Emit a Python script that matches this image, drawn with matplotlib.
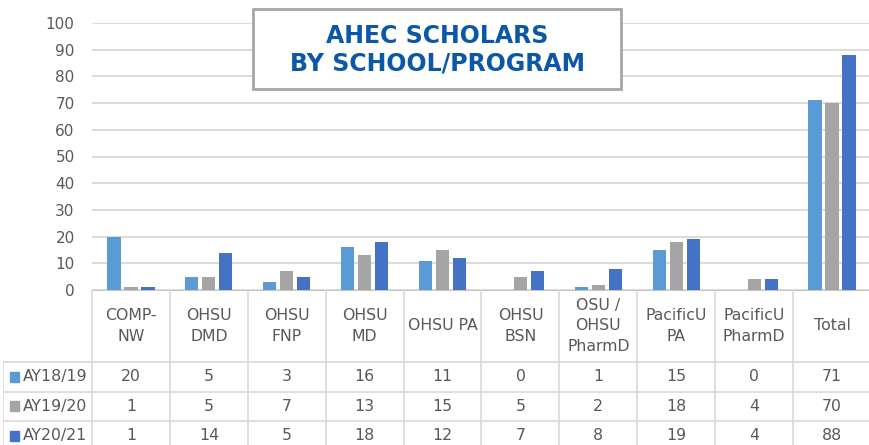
import numpy as np
import matplotlib
matplotlib.use("Agg")
import matplotlib.pyplot as plt
from matplotlib.patches import Rectangle

# data
categories = ["COMP-\nNW", "OHSU\nDMD", "OHSU\nFNP", "OHSU\nMD", "OHSU PA",
              "OHSU\nBSN", "OSU /\nOHSU\nPharmD", "PacificU\nPA", "PacificU\nPharmD", "Total"]
series_names = ["AY18/19", "AY19/20", "AY20/21"]
ay1819 = [20, 5, 3, 16, 11, 0, 1, 15, 0, 71]
ay1920 = [1, 5, 7, 13, 15, 5, 2, 18, 4, 70]
ay2021 = [1, 14, 5, 18, 12, 7, 8, 19, 4, 88]
colors = ["#5b9bd5", "#a5a5a5", "#4472c4"]

plt.rcParams["font.family"] = ["DejaVu Sans"]
W, H = 870, 445
txt_col = "#595959"
grid_col = "#d9d9d9"
fs = 11.3


def px_box(x0, y0, x1, y1):
    # pixel box (top-left origin) -> figure fraction rect
    return [x0 / W, 1 - y1 / H, (x1 - x0) / W, (y1 - y0) / H]


fig = plt.figure(figsize=(W / 100, H / 100), dpi=100)

# bar chart
ax = fig.add_axes(px_box(92, 23, 871, 290))
x = np.arange(len(categories))
for i, (vals, c) in enumerate(zip([ay1819, ay1920, ay2021], colors)):
    ax.bar(x + (i - 1) * 0.218, vals, width=0.17, color=c, zorder=3)
ax.set_xlim(-0.5, len(categories) - 0.5)
ax.set_ylim(0, 100)
ax.set_yticks(range(0, 101, 10))
ax.yaxis.grid(True, color=grid_col, lw=1.3)
ax.set_axisbelow(True)
ax.tick_params(left=False, bottom=False, labelbottom=False,
               labelsize=11, labelcolor=txt_col, pad=9)
for s in ax.spines.values():
    s.set_visible(False)

# data table under the chart
unit = (871 - 92) / len(categories)
left = -0.5 - 89 / unit
right = len(categories) - 0.5
tax = fig.add_axes(px_box(3, 290, 871, 445))
tax.set_xlim(left, right)
tax.set_ylim(155, 0)
tax.axis("off")

head_h = 72
row_h = 29.5
lc = dict(color=grid_col, lw=1.2)
tax.plot([-0.5, right], [0, 0], color="#bfbfbf", lw=1.3)
for k in range(len(categories) + 1):
    tax.plot([k - 0.5, k - 0.5], [0, 155], **lc)
tax.plot([left, left], [head_h, 155], **lc)
for r in range(3):
    y = head_h + r * row_h
    tax.plot([left, right], [y, y], **lc)

for i, cat in enumerate(categories):
    tax.text(i, head_h / 2, cat, ha="center", va="center", fontsize=fs,
             color=txt_col, linespacing=1.45)

for r, (name, vals, c) in enumerate(zip(series_names, [ay1819, ay1920, ay2021], colors)):
    yc = head_h + r * row_h + row_h / 2
    tax.add_patch(Rectangle((left + 7 / unit, yc - 5), 9 / unit, 10, color=c))
    tax.text(left + 20 / unit, yc, name, ha="left", va="center",
             fontsize=fs, color=txt_col)
    for i, v in enumerate(vals):
        tax.text(i, yc, str(v), ha="center", va="center",
                 fontsize=fs, color=txt_col)

# title box
fig.add_artist(Rectangle((253 / W, 1 - 89 / H), (621 - 253) / W, 80 / H,
                         transform=fig.transFigure, facecolor="white",
                         edgecolor="#a6a6a6", lw=2, zorder=5))
fig.text(437 / W, 1 - 50 / H, "AHEC SCHOLARS\nBY SCHOOL/PROGRAM", ha="center",
         va="center", fontsize=17, fontweight="bold", color="#0b57a8",
         linespacing=1.2, zorder=6)

fig.savefig("out.png", dpi=100)
